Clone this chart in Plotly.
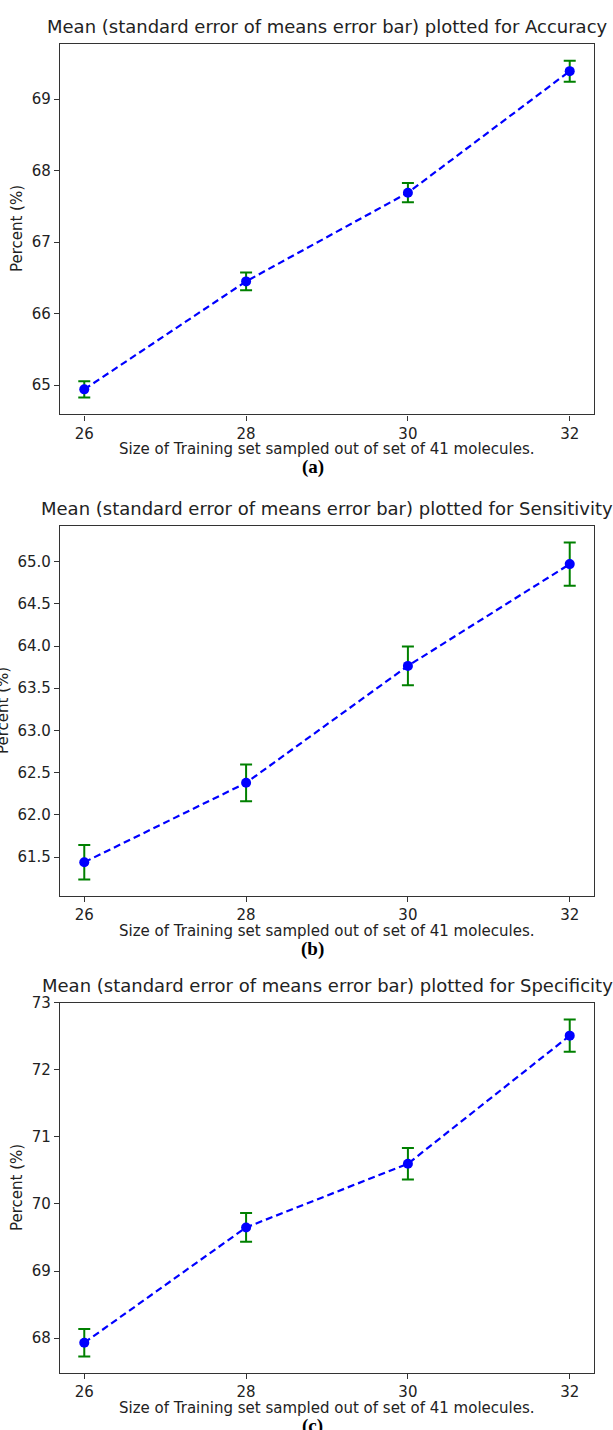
import plotly.graph_objects as go

# ---------------- data ----------------
train_sizes = [26, 28, 30, 32]

accuracy_mean = [64.94, 66.45, 67.69, 69.39]
accuracy_sem = [0.115, 0.125, 0.135, 0.147]

sensitivity_mean = [61.44, 62.38, 63.765, 64.97]
sensitivity_sem = [0.205, 0.218, 0.23, 0.255]

specificity_mean = [67.93, 69.65, 70.60, 72.51]
specificity_sem = [0.205, 0.215, 0.235, 0.24]

metric_names = ["Accuracy", "Sensitivity", "Specificity"]
panel_labels = ["(a)", "(b)", "(c)"]
x_tick_vals = [26, 28, 30, 32]
y_ticks_a = [65, 66, 67, 68, 69]
y_ticks_b = [61.5, 62.0, 62.5, 63.0, 63.5, 64.0, 64.5, 65.0]
y_ticks_c = [68, 69, 70, 71, 72, 73]

title_tmpl = "Mean (standard error of means error bar) plotted for {}"
x_label = "Size of Training set sampled out of set of 41 molecules."
y_label = "Percent (%)"

# ---------------- layout geometry (pixels) ----------------
W, H = 613, 1430
plot_left, plot_right = 60, 594
panels_px = [(35, 408), (520, 893), (1000, 1373)]  # top, bottom
ylabel_x = [17, 3, 17]

FONT = "DejaVu Sans"
TXT = "#222222"
AX = "#333333"

means = [accuracy_mean, sensitivity_mean, specificity_mean]
sems = [accuracy_sem, sensitivity_sem, specificity_sem]
yticks = [y_ticks_a, y_ticks_b, y_ticks_c]
ytickfmt = ["d", ".1f", "d"]

fig = go.Figure()

def px_x(p):
    return p / W

def px_y(p):
    return 1 - p / H

layout = dict(
    width=W, height=H,
    margin=dict(l=0, r=0, t=0, b=0),
    paper_bgcolor="white", plot_bgcolor="white",
    showlegend=False,
    font=dict(family=FONT, size=15, color=TXT),
)
annotations = []

xmin, xmax = min(train_sizes), max(train_sizes)
xpad = (xmax - xmin) * 0.05

for i in range(3):
    sfx = "" if i == 0 else str(i + 1)
    m, s = means[i], sems[i]
    fig.add_trace(go.Scatter(
        x=train_sizes, y=m,
        mode="lines+markers",
        line=dict(color="#0000ff", width=2.2, dash="7px,4px"),
        marker=dict(color="#0000ff", size=10),
        error_y=dict(type="data", array=s, visible=True,
                     color="#008000", thickness=2, width=6),
        xaxis="x" + sfx, yaxis="y" + sfx,
    ))
    lo = min(a - b for a, b in zip(m, s))
    hi = max(a + b for a, b in zip(m, s))
    ypad = (hi - lo) * 0.05
    top, bot = panels_px[i]
    layout["xaxis" + sfx] = dict(
        domain=[px_x(plot_left), px_x(plot_right)],
        anchor="y" + sfx,
        range=[xmin - xpad, xmax + xpad],
        tickvals=x_tick_vals,
        ticks="outside", ticklen=5, tickwidth=1.2, tickcolor=AX,
        showline=True, linecolor=AX, linewidth=1.2, mirror=True,
        showgrid=False, zeroline=False,
        tickfont=dict(family=FONT, size=15, color=TXT),
    )
    layout["yaxis" + sfx] = dict(
        domain=[px_y(bot), px_y(top)],
        anchor="x" + sfx,
        range=[lo - ypad, hi + ypad],
        tickvals=yticks[i],
        tickformat=ytickfmt[i],
        ticks="outside", ticklen=5, tickwidth=1.2, tickcolor=AX,
        showline=True, linecolor=AX, linewidth=1.2, mirror=True,
        showgrid=False, zeroline=False,
        tickfont=dict(family=FONT, size=15, color=TXT),
    )
    cx = (plot_left + plot_right) / 2
    # title
    annotations.append(dict(
        text=title_tmpl.format(metric_names[i]), xref="paper", yref="paper",
        x=px_x(cx), y=px_y(top - 17), xanchor="center", yanchor="middle",
        showarrow=False, font=dict(family=FONT, size=18, color=TXT)))
    # x label
    annotations.append(dict(
        text=x_label, xref="paper", yref="paper",
        x=px_x(cx), y=px_y(bot + 35), xanchor="center", yanchor="middle",
        showarrow=False, font=dict(family=FONT, size=15, color=TXT)))
    # y label
    annotations.append(dict(
        text=y_label, xref="paper", yref="paper", textangle=-90,
        x=px_x(ylabel_x[i]), y=px_y((top + bot) / 2),
        xanchor="center", yanchor="middle",
        showarrow=False, font=dict(family=FONT, size=15, color=TXT)))
    # panel label
    annotations.append(dict(
        text="<b>" + panel_labels[i] + "</b>", xref="paper", yref="paper",
        x=px_x(313), y=px_y(bot + 53), xanchor="center", yanchor="middle",
        showarrow=False, font=dict(family="Liberation Serif", size=19, color="#000000")))

layout["annotations"] = annotations
fig.update_layout(**layout)
fig.write_html(
    "out.html",
    config={"displayModeBar": False},
    post_script=(
        "document.documentElement.style.margin='0';"
        "document.body.style.margin='0';document.body.style.overflow='hidden';"
        "var d=document.getElementById('{plot_id}');"
        "d.style.position='absolute';d.style.left='0px';d.style.top='0px';"
    ),
)
